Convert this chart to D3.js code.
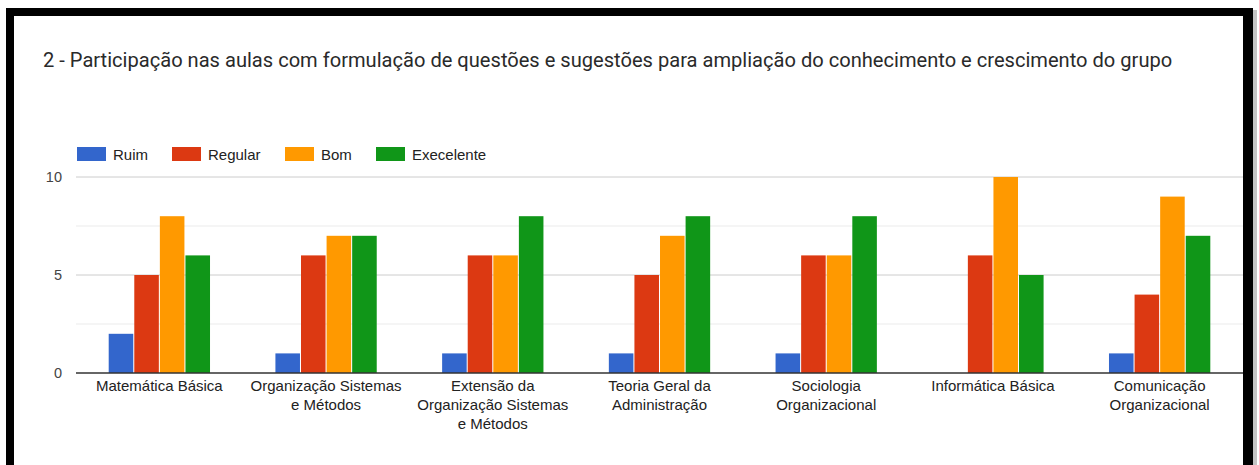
<!DOCTYPE html>
<html><head><meta charset="utf-8">
<script src="https://cdn.jsdelivr.net/npm/d3@7"></script>
<style>html,body{margin:0;padding:0;background:#fff;}svg{display:block;}</style>
</head><body>
<script>
const categories = [
  ["Matemática Básica"],
  ["Organização Sistemas", "e Métodos"],
  ["Extensão da", "Organização Sistemas", "e Métodos"],
  ["Teoria Geral da", "Administração"],
  ["Sociologia", "Organizacional"],
  ["Informática Básica"],
  ["Comunicação", "Organizacional"]
];
const seriesNames = ["Ruim", "Regular", "Bom", "Execelente"];
const ruim =       [2, 1, 1, 1, 1, 0, 1];
const regular =    [5, 6, 6, 5, 6, 6, 4];
const bom =        [8, 7, 6, 7, 6, 10, 9];
const execelente = [6, 7, 8, 8, 8, 5, 7];
const yTicks = [0, 5, 10];
const minorTicks = [2.5, 7.5];
const title = "2 - Participação nas aulas com formulação de questões e sugestões para ampliação do conhecimento e crescimento do grupo";
const colors = ["#3366cc", "#dc3912", "#ff9900", "#109618"];

const W = 1259, H = 465;
const svg = d3.select("body").append("svg").attr("width", W).attr("height", H);

// frame
svg.append("rect").attr("x", 0).attr("y", 0).attr("width", W).attr("height", H).attr("fill", "#fff");
svg.append("rect").attr("x", 6).attr("y", 8).attr("width", 1247).attr("height", 470).attr("fill", "#000");
svg.append("rect").attr("x", 1253).attr("y", 10).attr("width", 4).attr("height", 460).attr("fill", "#888").attr("opacity", 0.5);
svg.append("rect").attr("x", 14).attr("y", 16).attr("width", 1229).attr("height", 460).attr("fill", "#fff");

svg.append("text").attr("x", 43).attr("y", 67).text(title)
  .attr("font-family", "Roboto, sans-serif").attr("font-size", 20.1).attr("fill", "#2a2a2a");

const keys = categories.map((c, i) => i);
const x0 = d3.scaleBand().domain(keys).range([76, 1243]).paddingInner(0.38).paddingOuter(0.19);
const x1 = d3.scaleBand().domain(seriesNames).range([0, x0.bandwidth()]).padding(0.04);
const y = d3.scaleLinear().domain([0, 10]).range([373, 177]);

// grid
svg.append("g").selectAll("line").data(minorTicks).join("line")
  .attr("x1", 76).attr("x2", 1243).attr("y1", d => y(d)).attr("y2", d => y(d))
  .attr("stroke", "#ebebeb").attr("stroke-width", 1);
svg.append("g").selectAll("line").data(yTicks.filter(d => d !== 0)).join("line")
  .attr("x1", 76).attr("x2", 1243).attr("y1", d => y(d)).attr("y2", d => y(d))
  .attr("stroke", "#cccccc").attr("stroke-width", 1);

const yAxis = svg.append("g").attr("transform", "translate(62,0)")
  .call(d3.axisLeft(y).tickValues(yTicks).tickSize(0).tickPadding(0));
yAxis.select(".domain").remove();
yAxis.selectAll("text").attr("font-family", "Arial, 'Liberation Sans', sans-serif").attr("font-size", 14.5).attr("fill", "#444");

// bars
const data = [ruim, regular, bom, execelente];
const g = svg.append("g");
categories.forEach((c, i) => {
  seriesNames.forEach((s, j) => {
    const v = data[j][i];
    if (v <= 0) return;
    g.append("rect")
      .attr("x", x0(i) + x1(s))
      .attr("y", y(v))
      .attr("width", x1.bandwidth())
      .attr("height", y(0) - y(v))
      .attr("fill", colors[j]);
  });
});

// baseline
svg.append("line").attr("x1", 76).attr("x2", 1243).attr("y1", y(0)).attr("y2", y(0))
  .attr("stroke", "#333").attr("stroke-width", 1.3);

// x labels
const xl = svg.append("g");
categories.forEach((lines, i) => {
  const t = xl.append("text").attr("x", x0(i) + x0.bandwidth() / 2).attr("y", 391)
    .attr("text-anchor", "middle")
    .attr("font-family", "Arial, 'Liberation Sans', sans-serif").attr("font-size", 15).attr("fill", "#222");
  lines.forEach((ln, k) => t.append("tspan").attr("x", x0(i) + x0.bandwidth() / 2).attr("dy", k === 0 ? 0 : 19).text(ln));
});

// legend
const legX = [77, 172, 285, 376];
const leg = svg.append("g");
seriesNames.forEach((s, j) => {
  leg.append("rect").attr("x", legX[j]).attr("y", 147).attr("width", 29).attr("height", 14).attr("fill", colors[j]);
  leg.append("text").attr("x", legX[j] + 36).attr("y", 159.5).text(s)
    .attr("font-family", "Arial, 'Liberation Sans', sans-serif").attr("font-size", 15).attr("fill", "#222");
});
</script>
</body></html>
